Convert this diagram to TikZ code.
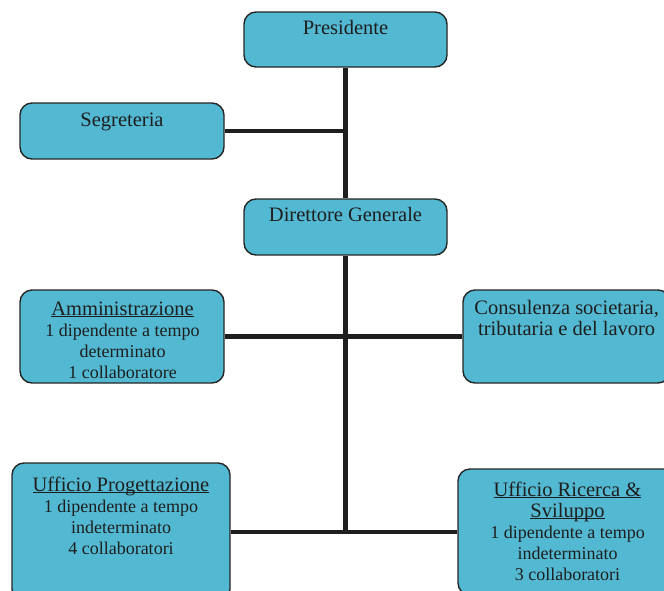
\documentclass[tikz,border=0pt]{standalone}
\usepackage{fontspec}
\setmainfont{Liberation Serif}
\definecolor{boxfill}{HTML}{53B9D2}
\definecolor{boxline}{HTML}{262626}
\definecolor{txtc}{HTML}{1E1E1E}
\newcommand\myul[1]{\setbox0\hbox{#1}\rlap{\rule[-2.2pt]{\wd0}{1.2pt}}\box0}
\newcommand\hfont{\fontsize{20.5}{21}\selectfont}
\newcommand\dfont{\fontsize{18}{21}\selectfont}
\begin{document}
\begin{tikzpicture}[x=1pt,y=-1pt,
  orgbox/.style={draw=boxline, line width=1.4pt, fill=boxfill, rounded corners=12pt, inner sep=0pt},
  boxtext/.style={anchor=north, inner sep=0pt, align=center, text=txtc, font=\dfont},
  link/.style={line width=4.5pt, draw=txtc}]
\useasboundingbox (0,0) rectangle (664,590);
\fill[white] (0,0) rectangle (664,590);
\clip (0,0) rectangle (664,590);
% boxes
\node[orgbox, minimum width=203pt, minimum height=55pt] (pres) at (345.5,39.5) {};
\node[orgbox, minimum width=204pt, minimum height=56pt] (seg) at (122,131) {};
\node[orgbox, minimum width=203pt, minimum height=56pt] (dir) at (345.5,227) {};
\node[orgbox, minimum width=204pt, minimum height=93pt] (amm) at (122,336.5) {};
\node[orgbox, minimum width=207pt, minimum height=93pt] (cons) at (566.5,336.5) {};
\node[orgbox, minimum width=218pt, minimum height=138pt] (prog) at (121,532) {};
\node[orgbox, minimum width=219pt, minimum height=126pt] (ric) at (567.5,532) {};
% texts
\node[boxtext] (presT) at (345.5,19.3) {{\hfont\strut Presidente}};
\node[boxtext] (segT) at (122,111.3) {{\hfont\strut Segreteria}};
\node[boxtext] (dirT) at (345.5,206.3) {{\hfont\strut Direttore Generale}};
\node[boxtext] (ammT) at (122.5,300.3) {{\hfont\strut\myul{Amministrazione}}\\1 dipendente a tempo\\determinato\\1 collaboratore};
\node[boxtext] (consT) at (566.7,299.6) {{\hfont\strut Consulenza societaria,}\\{\hfont tributaria e del lavoro}};
\node[boxtext] (progT) at (121,476.3) {{\hfont\strut\myul{Ufficio Progettazione}}\\1 dipendente a tempo\\indeterminato\\4 collaboratori};
\node[boxtext] (ricT) at (567.5,481.3) {{\hfont\strut\myul{Ufficio Ricerca \&}}\\{\hfont\myul{Sviluppo}}\\1 dipendente a tempo\\indeterminato\\3 collaboratori};
% connectors
\coordinate (bot) at (345.5,532);
\draw[link] (pres.south) -- (dir.north);
\draw[link] (seg.east) -- (seg.east -| pres.south);
\draw[link] (dir.south) -- (bot);
\draw[link] (amm.east) -- (cons.west);
\draw[link] (prog.east) -- (ric.west);
\end{tikzpicture}
\end{document}
